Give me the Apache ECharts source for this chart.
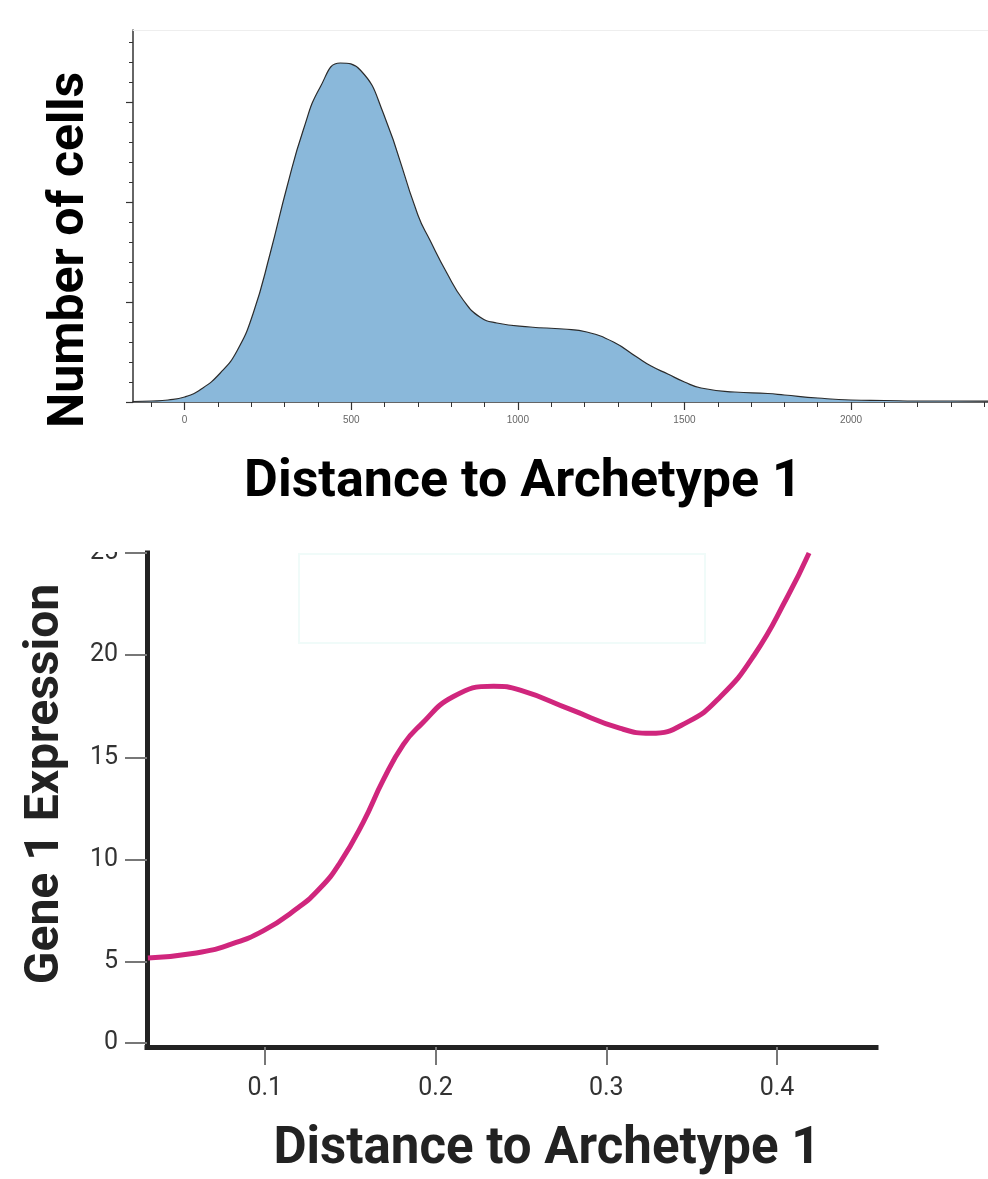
<!DOCTYPE html>
<html>
<head>
<meta charset="utf-8">
<script src="https://cdn.jsdelivr.net/npm/echarts@6/dist/echarts.min.js"></script>
<style>
html,body{margin:0;padding:0;background:#fff;}
#chart{width:988px;height:1179px;}
</style>
</head>
<body>
<div id="chart"></div>
<script>
// ---- Top chart: density of distance to archetype 1 ----
const densityX = [-155, -100, -50, 0, 50, 107, 157, 206, 257, 307, 356, 407, 467, 527, 596, 700, 736, 787, 836, 886, 937, 1037, 1136, 1207, 1287, 1357, 1400, 1450, 1500, 1550, 1650, 1750, 1800, 1900, 2000, 2100, 2200, 2300, 2411];
const densityY = [0.5, 1, 2, 5, 13, 29, 51, 89, 149, 215, 272, 315, 339, 332, 289, 187, 162, 129, 102, 85, 79, 75, 73, 70, 60, 45, 36, 28, 20, 14, 10, 8.5, 7, 4, 2, 1.5, 1, 1, 1];
const topXLabels = [0, 500, 1000, 1500, 2000];
const topXMinorTicks = [-100, 0, 100, 200, 300, 400, 500, 600, 700, 800, 900, 1000, 1100, 1200, 1300, 1400, 1500, 1600, 1700, 1800, 1900, 2000, 2100, 2200, 2300, 2400];
const topYMinorTicks = [20, 40, 60, 80, 120, 140, 160, 180, 220, 240, 260, 280, 320, 340, 360];
const topYMajorTicks = [0, 100, 200, 300];

// ---- Bottom chart: gene 1 expression vs distance ----
const geneX = [0.0315, 0.0599, 0.0795, 0.099, 0.1186, 0.1323, 0.144, 0.1577, 0.1694, 0.1812, 0.191, 0.2105, 0.234, 0.2496, 0.279, 0.3083, 0.326, 0.3475, 0.367, 0.3866, 0.4062, 0.4188];
const geneY = [5.19, 5.44, 5.85, 6.52, 7.6, 8.6, 9.85, 11.84, 13.9, 15.64, 16.57, 17.98, 18.48, 18.29, 17.35, 16.42, 16.18, 16.73, 17.98, 20.0, 22.87, 25.0];
const bottomXTicks = [0.1, 0.2, 0.3, 0.4];
const bottomYTicks = [5, 10, 15, 20, 25];
const bottomYZeroTick = [0];

const FONT = 'Roboto, "Liberation Sans", sans-serif';
const chart = echarts.init(document.getElementById('chart'), null, {renderer: 'canvas'});

const densityData = densityX.map((x, i) => [x, densityY[i]]);
const geneData = geneX.map((x, i) => [x, geneY[i]]);

chart.setOption({
  animation: false,
  backgroundColor: '#ffffff',
  grid: [
    {left: 133, right: 0, top: 30, bottom: 777, containLabel: false},
    {left: 147, right: 112, top: 553, bottom: 132, containLabel: false},
    {left: 147, right: 112, top: 553, bottom: 136, containLabel: false}
  ],
  xAxis: [
    {gridIndex: 0, type: 'value', min: -155, max: 2411, position: 'bottom',
     axisLine: {onZero: false, lineStyle: {color: '#333', width: 1.5}},
     axisTick: {customValues: topXMinorTicks, length: 5, lineStyle: {color: '#333', width: 1}},
     axisLabel: {customValues: topXLabels, fontSize: 10, color: '#666', margin: 13,
                 fontFamily: '"Liberation Sans", sans-serif', formatter: v => String(v)},
     splitLine: {show: false}},
    {gridIndex: 0, type: 'value', min: -155, max: 2411, position: 'bottom',
     axisLine: {show: false, onZero: false},
     axisTick: {customValues: topXLabels, length: 8, lineStyle: {color: '#333', width: 1.2}},
     axisLabel: {show: false}, splitLine: {show: false}},
    {gridIndex: 0, type: 'value', min: -155, max: 2411, position: 'top',
     axisLine: {onZero: false, lineStyle: {color: '#eeeeee', width: 1}},
     axisTick: {show: false}, axisLabel: {show: false}, splitLine: {show: false}},
    {gridIndex: 1, type: 'value', min: 0.031, max: 0.458, position: 'bottom',
     axisLine: {onZero: false, lineStyle: {color: '#222', width: 5, cap: 'square'}},
     axisTick: {customValues: bottomXTicks, length: 18, lineStyle: {color: '#777', width: 2}},
     axisLabel: {customValues: bottomXTicks, fontSize: 25, color: '#333', margin: 29, fontFamily: FONT},
     splitLine: {show: false}},
    {gridIndex: 2, type: 'value', min: 0.031, max: 0.458, show: false}
  ],
  yAxis: [
    {gridIndex: 0, type: 'value', min: 0, max: 372, position: 'left',
     axisLine: {show: true, onZero: false, lineStyle: {color: '#333', width: 1.5}},
     axisTick: {show: true, customValues: topYMinorTicks, length: 4, lineStyle: {color: '#333', width: 1}},
     axisLabel: {show: false}, splitLine: {show: false}},
    {gridIndex: 0, type: 'value', min: 0, max: 372, position: 'left',
     axisLine: {show: false, onZero: false},
     axisTick: {show: true, customValues: topYMajorTicks, length: 7, lineStyle: {color: '#333', width: 1.2}},
     axisLabel: {show: false}, splitLine: {show: false}},
    {gridIndex: 1, type: 'value', min: 0.84, max: 25, position: 'left',
     axisLine: {show: true, onZero: false, lineStyle: {color: '#222', width: 5, cap: 'square'}},
     axisTick: {show: true, customValues: bottomYTicks, length: 22, lineStyle: {color: '#777', width: 2}},
     axisLabel: {customValues: bottomYTicks, fontSize: 25, color: '#333', margin: 29, fontFamily: FONT},
     splitLine: {show: false}},
    {gridIndex: 2, type: 'value', min: 0, max: 25, position: 'left',
     axisLine: {show: false, onZero: false},
     axisTick: {show: true, customValues: bottomYZeroTick, length: 22, lineStyle: {color: '#777', width: 2}},
     axisLabel: {customValues: bottomYZeroTick, fontSize: 25, color: '#333', margin: 29, fontFamily: FONT},
     splitLine: {show: false}}
  ],
  series: [
    {type: 'line', xAxisIndex: 0, yAxisIndex: 0, data: densityData, smooth: 0.5,
     showSymbol: false, silent: true,
     lineStyle: {color: '#2b2b2b', width: 1.2},
     areaStyle: {color: '#8ab8da', opacity: 1}},
    {type: 'line', xAxisIndex: 3, yAxisIndex: 2, data: geneData, smooth: 0.5,
     showSymbol: false, silent: true,
     lineStyle: {color: '#d0267d', width: 5}}
  ],
  graphic: [
    {type: 'rect', shape: {x: 299, y: 554, width: 406, height: 89},
     style: {fill: 'rgba(0,0,0,0)', stroke: '#f0fbf9', lineWidth: 2}, z: 1},
    {type: 'rect', shape: {x: 90, y: 520, width: 52, height: 32},
     style: {fill: '#ffffff'}, z: 100},
    {type: 'text', x: 523, y: 483, z: 100,
     style: {text: 'Distance to Archetype 1', font: 'bold 52px ' + FONT, fill: '#000', align: 'center', verticalAlign: 'middle'}},
    {type: 'text', x: 70, y: 250, rotation: Math.PI / 2, z: 100,
     style: {text: 'Number of cells', font: 'bold 50px ' + FONT, fill: '#000', align: 'center', verticalAlign: 'middle'}},
    {type: 'text', x: 547, y: 1150, z: 100,
     style: {text: 'Distance to Archetype 1', font: 'bold 51px ' + FONT, fill: '#222', align: 'center', verticalAlign: 'middle'}},
    {type: 'text', x: 46, y: 784, rotation: Math.PI / 2, z: 100,
     style: {text: 'Gene 1 Expression', font: 'bold 48px ' + FONT, fill: '#222', align: 'center', verticalAlign: 'middle'}}
  ]
});
</script>
</body>
</html>
